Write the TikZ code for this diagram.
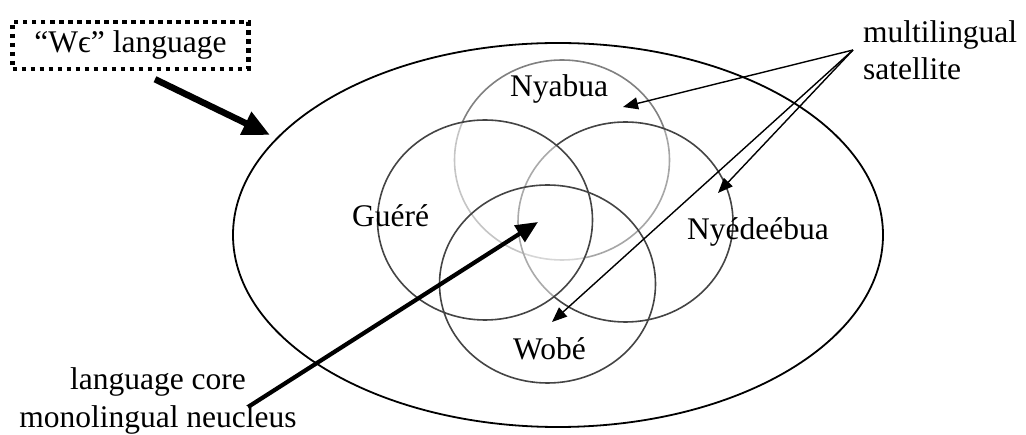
\documentclass[tikz,border=0pt]{standalone}
\usepackage{fontspec}
\setmainfont{Liberation Serif}
\usetikzlibrary{arrows.meta}
\definecolor{ringdark}{HTML}{444444}
\definecolor{ringlight}{HTML}{808080}
\begin{document}
\begin{tikzpicture}[x=1pt,y=-1pt,
  lbl/.style={inner sep=0pt, font=\fontsize{31.5}{37}\selectfont},
  ring/.style={line width=1.6pt, draw=ringdark},
  dotbox/.style={draw, line width=4.5pt, dash pattern=on 4.5pt off 4.5pt},
  bigarrow/.style={line width=6.5pt, -{Triangle[length=27pt,width=24pt]}},
  corearrow/.style={line width=4.2pt, -{Triangle[length=22pt,width=19pt]}},
  thinarrow/.style={line width=1.4pt, -{Triangle[length=15pt,width=12pt]}}
]
\useasboundingbox (0,0) rectangle (1026,435);

% the whole language area
\draw[line width=1.8pt] (558,235) ellipse [x radius=325pt, y radius=192pt];

% the four speech varieties
\draw[line width=1.6pt, draw=ringlight] (562,160) ellipse [x radius=107.5pt, y radius=100pt];
\draw[ring, fill=white, fill opacity=0.3] (625.5,222) ellipse [x radius=107.5pt, y radius=100pt];
\draw[ring, fill=white, fill opacity=0.55] (485,220) ellipse [x radius=107.5pt, y radius=100pt];
\draw[ring] (547.5,284) ellipse [x radius=108pt, y radius=99pt];

% labels
\node[lbl, anchor=base west] (nyabua) at (510,97) {Nyabua};
\node[lbl, anchor=base west] (guere) at (352,227) {Guéré};
\node[lbl, anchor=base west] (nyede) at (687,240) {Nyédeébua};
\node[lbl, anchor=base west] (wobe) at (513,360) {Wobé};

\node[lbl, dotbox, minimum width=236pt, text height=22pt, text depth=7pt,
      inner ysep=9pt, anchor=base] (we) at (130.5,53) {“Wϵ” language};

% multi-line nodes: the base anchor sits on the last line
\node[lbl, align=left, anchor=base west] (sat) at (863,80) {multilingual\\satellite};
\node[lbl, align=center, anchor=base] (core) at (158,428) {language core\\[1pt]monolingual neucleus};

% arrow ends
\coordinate (weTip) at (270,135);
\coordinate (coreTail) at (248,407);
\coordinate (coreTip) at (538,222);
\coordinate (satTail) at (853,50);
\coordinate (tipNyabua) at (623,107);
\coordinate (tipNyede) at (718,193);
\coordinate (tipWobe) at (552,322);

% connectors
\draw[bigarrow] ([shift={(24.5,8)}]we.south) -- (weTip);
\draw[corearrow] (coreTail) -- (coreTip);
\draw[thinarrow] (satTail) -- (tipNyabua);
\draw[thinarrow] (satTail) -- (tipNyede);
\draw[thinarrow] (satTail) -- (tipWobe);
\end{tikzpicture}
\end{document}
